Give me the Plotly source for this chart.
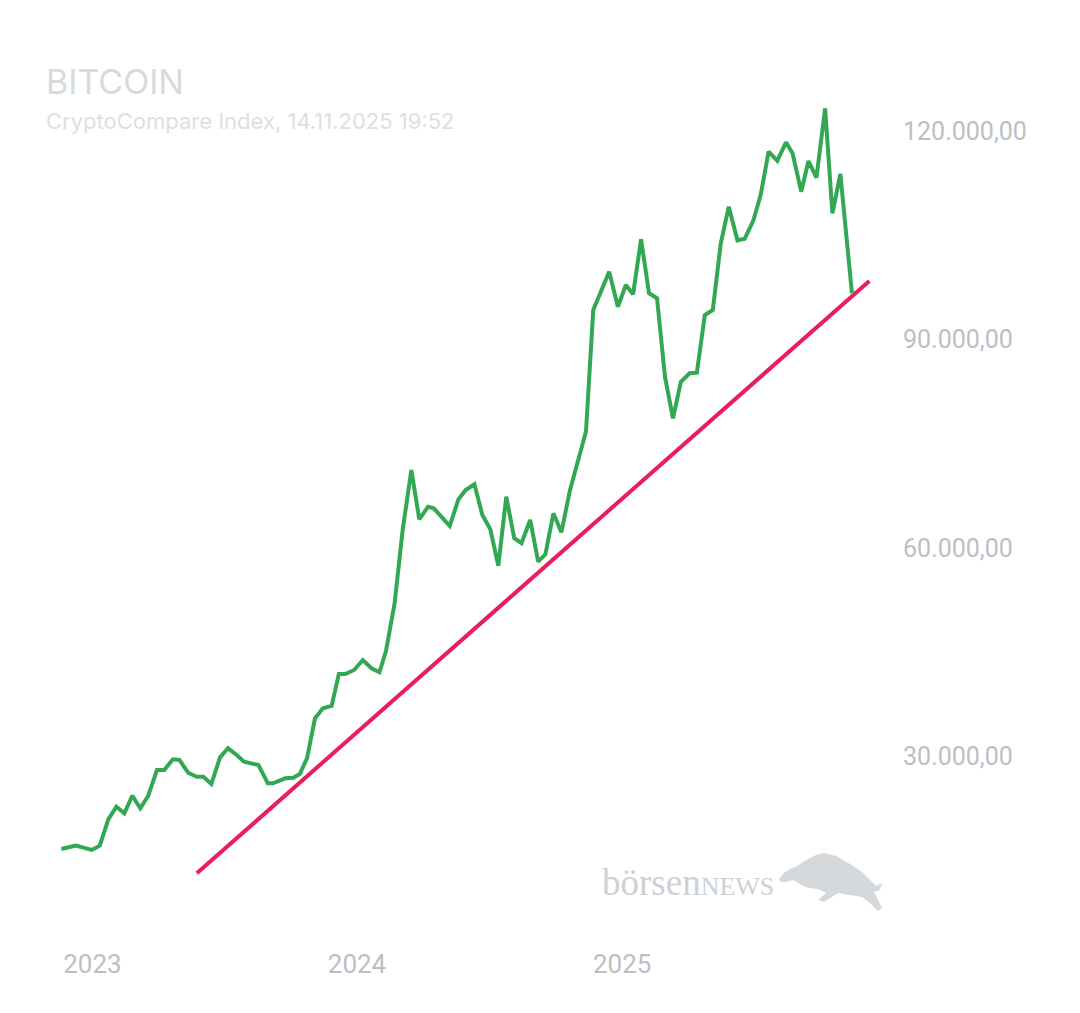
import plotly.graph_objects as go

# ---- data ----
dates = [
    "2022-11-19", "2022-12-09", "2022-12-31", "2023-01-11", "2023-01-23", "2023-02-03",
    "2023-02-14", "2023-02-25", "2023-03-08", "2023-03-19", "2023-03-31", "2023-04-10",
    "2023-04-22", "2023-05-01", "2023-05-13", "2023-05-25", "2023-06-03", "2023-06-14",
    "2023-06-26", "2023-07-07", "2023-07-19", "2023-07-29", "2023-08-18", "2023-08-31",
    "2023-09-07", "2023-09-24", "2023-10-05", "2023-10-14", "2023-10-24", "2023-11-04",
    "2023-11-15", "2023-11-27", "2023-12-07", "2023-12-16", "2023-12-28", "2024-01-09",
    "2024-01-21", "2024-02-01", "2024-02-10", "2024-02-22", "2024-03-04", "2024-03-16",
    "2024-03-27", "2024-04-08", "2024-04-16", "2024-05-08", "2024-05-20", "2024-05-30",
    "2024-06-11", "2024-06-22", "2024-07-03", "2024-07-14", "2024-07-25", "2024-08-05",
    "2024-08-15", "2024-08-27", "2024-09-07", "2024-09-17", "2024-09-28", "2024-10-09",
    "2024-10-21", "2024-11-01", "2024-11-12", "2024-11-22", "2024-12-14", "2024-12-26",
    "2025-01-06", "2025-01-16", "2025-01-27", "2025-02-07", "2025-02-18", "2025-03-01",
    "2025-03-12", "2025-03-23", "2025-04-04", "2025-04-14", "2025-04-25", "2025-05-06",
    "2025-05-17", "2025-05-28", "2025-06-09", "2025-06-19", "2025-07-01", "2025-07-11",
    "2025-07-22", "2025-08-03", "2025-08-15", "2025-08-24", "2025-09-05", "2025-09-15",
    "2025-09-26", "2025-10-08", "2025-10-18", "2025-10-29", "2025-11-14",
]
prices = [
    16700, 17170, 16550, 17170, 21000, 22780,
    21830, 24360, 22550, 24360, 28060, 28060,
    29600, 29500, 27670, 27090, 27090, 26040,
    29880, 31180, 30220, 29250, 28780, 26140,
    26140, 26860, 26950, 27480, 29740, 35500,
    36930, 37270, 41870, 41870, 42450, 43880,
    42690, 42120, 45180, 52090, 62590, 71220,
    64130, 65940, 65710, 63170, 67010, 68350,
    69170, 64750, 62690, 57450, 67380, 61400,
    60680, 64030, 58030, 59090, 64990, 62260,
    68350, 72560, 76760, 94240, 99760, 94720,
    97840, 96500, 104420, 96650, 95930, 84650,
    78660, 83930, 85140, 85220, 93530, 94240,
    103840, 109110, 104270, 104490, 107150, 110790,
    117020, 115730, 118370, 116790, 111270, 115680,
    113280, 123270, 108160, 113810, 96650,
]

trend_dates = ["2023-05-25", "2025-12-08"]
trend_values = [13190, 98420]

y_ticks = [30000, 60000, 90000, 120000]
x_ticks = ["2023-01-01", "2024-01-01", "2025-01-01"]

title_text = "BITCOIN"
subtitle_text = "CryptoCompare Index, 14.11.2025 19:52"

# ---- layout geometry (pixels) ----
W, H = 1080, 1013
PL, PR, PT, PB = 40, 890, 60, 940  # plot area edges


def px_to_paper(x, y):
    return (x - PL) / (PR - PL), (PB - y) / (PB - PT)


fig = go.Figure()

fig.add_trace(go.Scatter(
    x=trend_dates, y=trend_values, mode="lines",
    line=dict(color="#E91E5F", width=4), hoverinfo="skip",
))
fig.add_trace(go.Scatter(
    x=dates, y=prices, mode="lines",
    line=dict(color="#33A853", width=4),
))

# watermark bull silhouette (decoration)
bull_px = [
    (779, 879), (784, 873), (790, 869), (797, 866), (806, 860), (816, 855),
    (824, 853), (836, 856), (850, 864), (862, 872), (870, 880), (876, 886),
    (882, 883), (880, 890), (874, 892), (878, 900), (882, 908), (878, 911),
    (870, 903), (862, 897), (850, 895), (838, 893), (832, 897), (824, 902),
    (818, 900), (826, 893), (818, 889), (808, 888), (800, 884), (793, 880),
    (786, 882), (781, 882),
]
pts = [px_to_paper(x, y) for x, y in bull_px]
path = "M " + " L ".join(f"{a:.4f},{b:.4f}" for a, b in pts) + " Z"
fig.add_shape(type="path", path=path, xref="paper", yref="paper",
              fillcolor="#D6D9DC", line=dict(width=0), layer="below")

annotations = []
tx, ty = px_to_paper(44, 59)
annotations.append(dict(
    text=title_text, x=tx, y=ty, xref="paper", yref="paper",
    xanchor="left", yanchor="top", showarrow=False,
    font=dict(family="Inter", size=34, color="#D8DADE"),
))
sx, sy = px_to_paper(44, 106)
annotations.append(dict(
    text=subtitle_text, x=sx, y=sy, xref="paper", yref="paper",
    xanchor="left", yanchor="top", showarrow=False,
    font=dict(family="Inter", size=22, color="#DDDFE2"),
))
wx, wy = px_to_paper(600, 905)
annotations.append(dict(
    text="börsen<span style='font-size:26px'>NEWS</span>", x=wx, y=wy,
    xref="paper", yref="paper", xanchor="left", yanchor="bottom", showarrow=False,
    font=dict(family="Liberation Serif", size=37, color="#CDD1D5"),
))

fig.update_layout(
    width=W, height=H,
    margin=dict(l=PL, r=W - PR, t=PT, b=H - PB, pad=0),
    paper_bgcolor="white", plot_bgcolor="white",
    showlegend=False,
    separators=",.",
    annotations=annotations,
    xaxis=dict(
        type="date",
        range=["2022-10-20 14:00", "2026-01-05 12:00"],
        tickvals=x_ticks, tickformat="%Y",
        showgrid=False, zeroline=False, showline=False, ticks="",
        tickfont=dict(family="Roboto", size=26, color="#BBBFC5"),
        ticklabelstandoff=6,
    ),
    yaxis=dict(
        side="right",
        range=[3597, 130216],
        tickvals=y_ticks, tickformat=",.2f",
        showgrid=False, zeroline=False, showline=False, ticks="",
        tickfont=dict(family="Roboto", size=25, color="#BBBFC5"),
        ticklabelstandoff=12,
    ),
)

fig.write_html("out.html")
